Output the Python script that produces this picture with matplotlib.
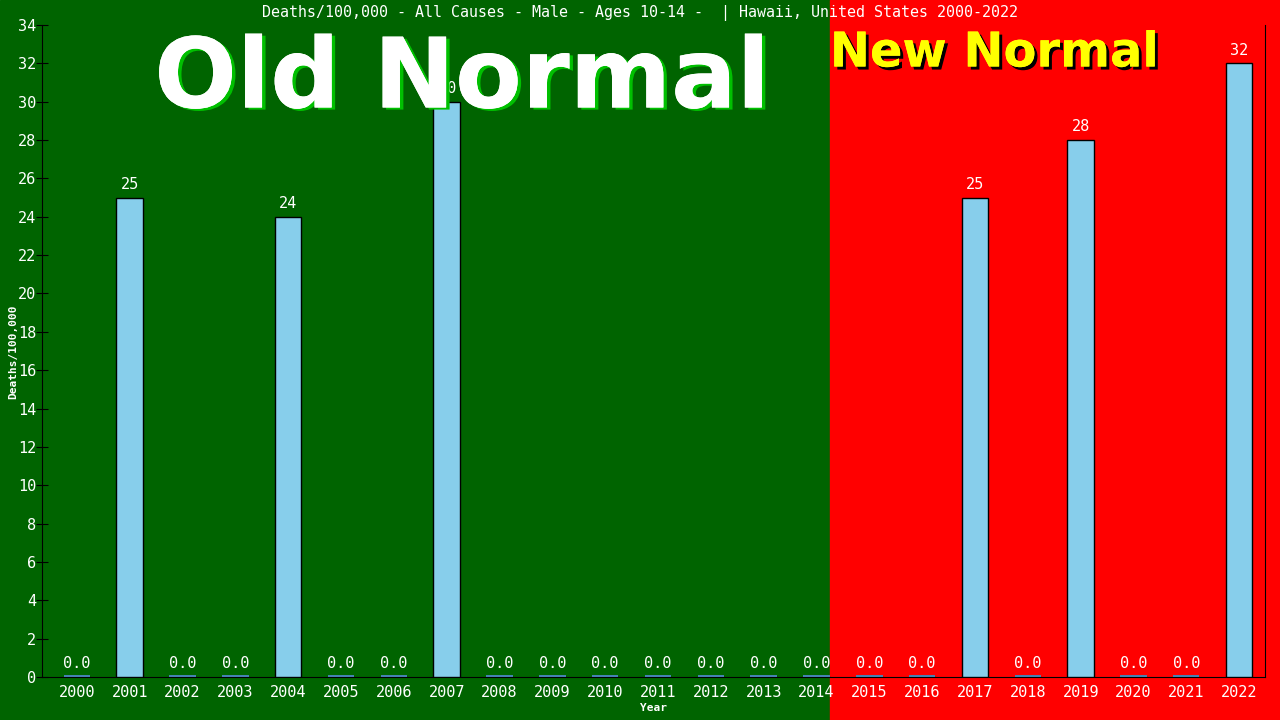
import numpy as np
import matplotlib
matplotlib.use('agg')
import matplotlib.pyplot as plt
import matplotlib.patheffects as pe

years = list(range(2000, 2023))
deaths = [0, 25, 0, 0, 24, 0, 0, 30, 0, 0, 0, 0, 0, 0, 0, 0, 0, 25, 0, 28, 0, 0, 32]
labels = ['0.0' if v == 0 else str(v) for v in deaths]

title = "Deaths/100,000 - All Causes - Male - Ages 10-14 -  | Hawaii, United States 2000-2022"
mono = 'DejaVu Sans Mono'

fig = plt.figure(figsize=(12.8, 7.2), dpi=100)

# background: green "old normal" and red "new normal" halves
bg = fig.add_axes([0, 0, 1, 1], zorder=-1)
bg.set_xlim(0, 1280)
bg.set_ylim(0, 720)
bg.axvspan(0, 830, color='#006400')
bg.axvspan(830, 1280, color='#ff0000')
bg.axis('off')

ax = fig.add_axes([42 / 1280, 43 / 720, (1265 - 42) / 1280, (677 - 25) / 720], zorder=1)
ax.patch.set_alpha(0)

x = np.arange(len(years))
ax.bar(x, deaths, width=0.5, color='#87ceeb', edgecolor='black', linewidth=1, zorder=3)
for xi, v in zip(x, deaths):
    if v == 0:
        ax.bar(xi, 0.09, width=0.5, color='#4682b4', linewidth=0, zorder=4)

for xi, v, lab in zip(x, deaths, labels):
    ax.text(xi, v + 0.3, lab, ha='center', va='bottom', color='white',
            family=mono, fontsize=11, zorder=5)

ax.set_xlim(-0.66, 22.49)
ax.set_ylim(0, 34)
ax.set_yticks(range(0, 35, 2))
ax.set_xticks(x)
ax.set_xticklabels([str(y) for y in years])

ax.spines['top'].set_visible(False)
for s in ['left', 'right', 'bottom']:
    ax.spines[s].set_color('black')
ax.tick_params(colors='white', labelsize=11)
ax.tick_params(axis='x', length=0, pad=6)
ax.tick_params(axis='y', color='black', direction='inout', length=8, pad=0)
for t in ax.get_xticklabels() + ax.get_yticklabels():
    t.set_family(mono)
    t.set_color('white')

ax.set_xlabel('Year', color='white', family=mono, fontsize=8, fontweight='bold', labelpad=2)
fig.text(13 / 1280, 1 - 352 / 720, 'Deaths/100,000', rotation=90, ha='center', va='center',
         color='white', family=mono, fontsize=8, fontweight='bold')

fig.text(0.5, 1 - 13 / 720, title, ha='center', va='center', color='white',
         family=mono, fontsize=10.8, zorder=3)

fig.text(462 / 1280, 1 - 81 / 720, 'Old Normal', ha='center', va='center', color='white',
         family='DejaVu Sans', fontweight='bold', fontsize=70, zorder=2,
         path_effects=[pe.withSimplePatchShadow(offset=(2.5, -1.5), shadow_rgbFace='#00c000', alpha=1),
                       pe.Normal()])
fig.text(994 / 1280, 1 - 53 / 720, 'New Normal', ha='center', va='center', color='#ffff00',
         family='DejaVu Sans', fontweight='bold', fontsize=34.5, zorder=2,
         path_effects=[pe.withSimplePatchShadow(offset=(2.2, -2.2), shadow_rgbFace='black', alpha=1),
                       pe.Normal()])

fig.savefig('out.png', dpi=100)
